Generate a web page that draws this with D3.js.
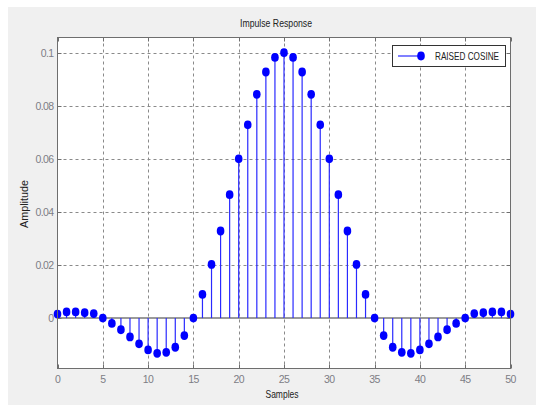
<!DOCTYPE html>
<html>
<head>
<meta charset="utf-8">
<script src="https://cdn.jsdelivr.net/npm/d3@7"></script>
<style>
    body { margin: 0; background: #fff; }
    text { font-family: "Liberation Sans", Arial, sans-serif; }
    .tick-label { fill: #7d7d85; font-size: 10.5px; letter-spacing: -0.6px; }
    .grid { stroke: #8a8a8a; stroke-width: 1; stroke-dasharray: 3,3; }
</style>
</head>
<body>
<svg id="chart" width="536" height="405"></svg>
<script>
// samples 0..50
var samples = d3.range(0, 51);
var amplitude = [
    0.0015, 0.0023, 0.0023, 0.0020, 0.0017, 0.0000, -0.0020, -0.0044, -0.0071, -0.0097,
    -0.0120, -0.0133, -0.0129, -0.0110, -0.0066, 0.0000, 0.0089, 0.0202, 0.0328, 0.0465,
    0.0600, 0.0728, 0.0843, 0.0927, 0.0982, 0.1000, 0.0982, 0.0927, 0.0843, 0.0728,
    0.0600, 0.0465, 0.0328, 0.0202, 0.0089, 0.0000, -0.0066, -0.0110, -0.0129, -0.0133,
    -0.0120, -0.0097, -0.0071, -0.0044, -0.0020, 0.0000, 0.0017, 0.0020, 0.0023, 0.0023,
    0.0015
];
var xTicks = [0, 5, 10, 15, 20, 25, 30, 35, 40, 45, 50];
var yTicks = [0, 0.02, 0.04, 0.06, 0.08, 0.1];
var seriesName = "RAISED COSINE";

var svg = d3.select("#chart");
var pLeft = 57.5, pRight = 510.5, pTop = 37.5, pBottom = 368.5;

var x = d3.scaleLinear().domain([0, 50]).range([pLeft, pRight]);
var y = d3.scaleLinear().domain([-0.019, 0.1057]).range([pBottom, pTop]);

// narrow text helper (squeezes glyphs to a given width)
function label(px, py, str, w, size, anchor) {
    return svg.append("text")
        .attr("x", px).attr("y", py)
        .attr("text-anchor", anchor || "middle")
        .attr("textLength", w)
        .attr("lengthAdjust", "spacingAndGlyphs")
        .style("font-size", size + "px")
        .style("fill", "#222")
        .text(str);
}

// figure background
svg.append("rect")
    .attr("x", 8).attr("y", 7)
    .attr("width", 536 - 8).attr("height", 405 - 7)
    .style("fill", "#f0f0f0");

// axes area
svg.append("rect")
    .attr("x", pLeft).attr("y", pTop)
    .attr("width", pRight - pLeft).attr("height", pBottom - pTop)
    .style("fill", "#fff");

// grid lines
svg.selectAll(".gx").data(xTicks.slice(1, -1)).enter()
    .append("line").attr("class", "grid")
    .attr("x1", function(d) { return Math.round(x(d)) + 0.5; })
    .attr("x2", function(d) { return Math.round(x(d)) + 0.5; })
    .attr("y1", pTop).attr("y2", pBottom);

svg.selectAll(".gy").data(yTicks).enter()
    .append("line").attr("class", "grid")
    .attr("x1", pLeft).attr("x2", pRight)
    .attr("y1", function(d) { return Math.round(y(d)) + 0.5; })
    .attr("y2", function(d) { return Math.round(y(d)) + 0.5; });

// zero baseline
svg.append("line")
    .attr("x1", pLeft).attr("x2", pRight)
    .attr("y1", y(0)).attr("y2", y(0))
    .style("stroke", "#9a9a9a").style("stroke-width", 2);

// stems
svg.selectAll(".stem").data(samples).enter()
    .append("line")
    .attr("x1", function(d) { return x(d); })
    .attr("x2", function(d) { return x(d); })
    .attr("y1", y(0))
    .attr("y2", function(d, i) { return y(amplitude[i]); })
    .style("stroke", "#2a2aff")
    .style("stroke-width", 1.2);

// markers
svg.selectAll(".mk").data(samples).enter()
    .append("ellipse")
    .attr("cx", function(d) { return x(d); })
    .attr("cy", function(d, i) { return y(amplitude[i]); })
    .attr("rx", 3.8).attr("ry", 4.4)
    .style("fill", "#0000ff");

// axes box
svg.append("rect")
    .attr("x", pLeft).attr("y", pTop)
    .attr("width", pRight - pLeft).attr("height", pBottom - pTop)
    .style("fill", "none").style("stroke", "#6e6e6e").style("stroke-width", 1);

// ticks (inside)
xTicks.forEach(function(t) {
    var px = Math.round(x(t)) + 0.5;
    svg.append("line").attr("x1", px).attr("x2", px).attr("y1", pBottom).attr("y2", pBottom - 4)
        .style("stroke", "#6e6e6e");
    svg.append("line").attr("x1", px).attr("x2", px).attr("y1", pTop).attr("y2", pTop + 4)
        .style("stroke", "#6e6e6e");
    svg.append("text").attr("class", "tick-label")
        .attr("x", x(t)).attr("y", pBottom + 14)
        .attr("text-anchor", "middle")
        .text(t);
});

yTicks.forEach(function(t) {
    var py = Math.round(y(t)) + 0.5;
    svg.append("line").attr("x1", pLeft).attr("x2", pLeft + 4).attr("y1", py).attr("y2", py)
        .style("stroke", "#6e6e6e");
    svg.append("line").attr("x1", pRight).attr("x2", pRight - 4).attr("y1", py).attr("y2", py)
        .style("stroke", "#6e6e6e");
    svg.append("text").attr("class", "tick-label")
        .attr("x", pLeft - 4).attr("y", y(t) + 4)
        .attr("text-anchor", "end")
        .text(t === 0 ? "0" : d3.format("")(t));
});

// titles
label(276, 27, "Impulse Response", 72, 11);
label(282, 398, "Samples", 33, 11);
label(0, 0, "Amplitude", 48, 11)
    .attr("transform", "translate(28,204) rotate(-90)");

// legend
var lg = svg.append("g");
lg.append("rect")
    .attr("x", 392.5).attr("y", 45.5)
    .attr("width", 113).attr("height", 21)
    .style("fill", "#fff").style("stroke", "#333").style("stroke-width", 1);
lg.append("line")
    .attr("x1", 398).attr("x2", 421).attr("y1", 56).attr("y2", 56)
    .style("stroke", "#2a2aff").style("stroke-width", 1.2);
lg.append("ellipse")
    .attr("cx", 421).attr("cy", 56).attr("rx", 3.8).attr("ry", 4.4)
    .style("fill", "#0000ff");
label(435, 60, seriesName, 64, 11, "start");
</script>
</body>
</html>
